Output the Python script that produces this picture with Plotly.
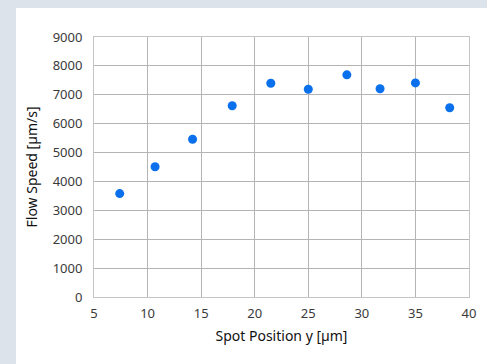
import plotly.graph_objects as go

positions = [7.4, 10.7, 14.2, 17.9, 21.5, 25.0, 28.6, 31.7, 35.0, 38.2]
speeds = [3580, 4510, 5460, 6620, 7400, 7190, 7690, 7210, 7410, 6550]
x_title = "Spot Position y [µm]"
y_title = "Flow Speed [µm/s]"

W, H = 487, 364
ml, mr, mt, mb = 94, 18, 37, 67
pw, ph = W - ml - mr, H - mt - mb

def px_x(p):
    return (p - ml) / pw

def px_y(p):
    return (H - mb - p) / ph

fig = go.Figure(go.Scatter(
    x=positions, y=speeds, mode="markers",
    marker=dict(color="#0a70ec", size=9, line=dict(width=0)),
))

font = "Noto Sans, Open Sans, sans-serif"
fig.update_layout(
    width=W, height=H,
    margin=dict(l=ml, r=mr, t=mt, b=mb),
    paper_bgcolor="#dce3ea",
    plot_bgcolor="rgba(0,0,0,0)",
    showlegend=False,
    font=dict(family=font, size=13, color="#3a3a3a"),
    shapes=[dict(type="rect", xref="paper", yref="paper",
                 x0=px_x(16), x1=px_x(W + 10), y0=px_y(H + 10), y1=px_y(8),
                 fillcolor="white", line=dict(width=0), layer="below")],
)
fig.update_xaxes(
    range=[5, 40], dtick=5, tick0=5,
    showgrid=True, gridcolor="#b4b4b4", gridwidth=1,
    showline=True, linecolor="#c4c4c4", linewidth=1, mirror=True,
    zeroline=False, ticks="", ticklen=0, ticklabelstandoff=4,
    title=dict(text=x_title, font=dict(family=font, size=14, color="#111111"), standoff=10),
)
fig.update_yaxes(
    range=[0, 9000], dtick=1000,
    showgrid=True, gridcolor="#b4b4b4", gridwidth=1,
    showline=True, linecolor="#c4c4c4", linewidth=1, mirror=True,
    zeroline=False, ticks="", ticklen=0, ticklabelstandoff=8,
    title=dict(text=y_title, font=dict(family=font, size=14, color="#111111"), standoff=11),
)
fig.write_html(
    "out.html",
    config={"displayModeBar": False},
    post_script="document.body.style.margin='0px';document.body.style.background='#dce3ea';",
)
